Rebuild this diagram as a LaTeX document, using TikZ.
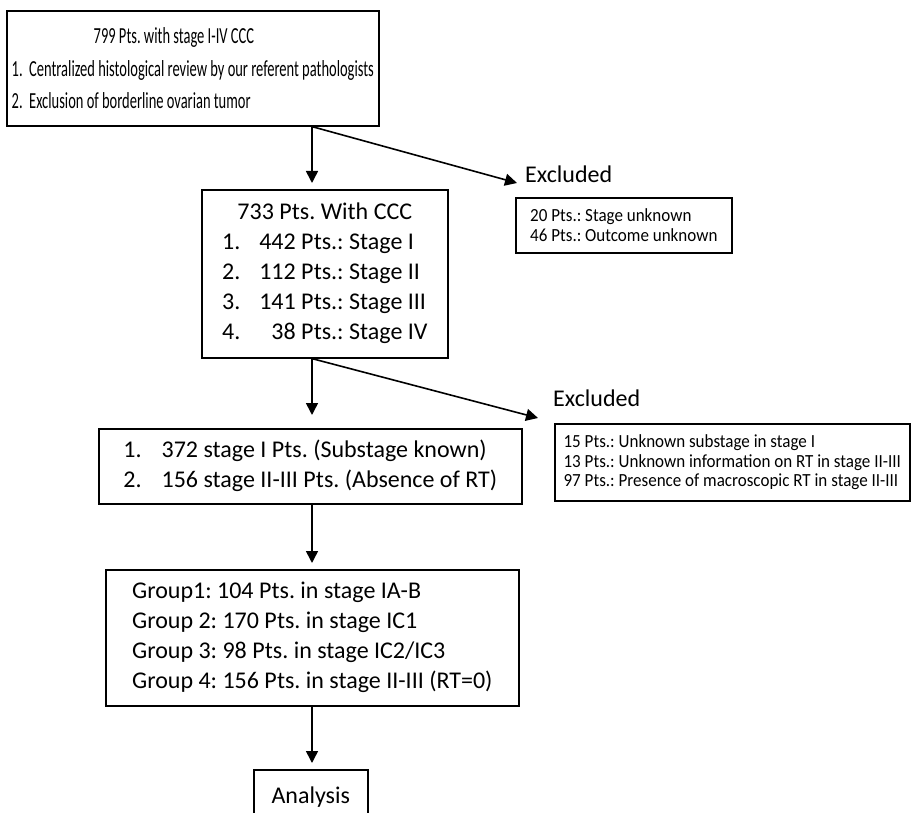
\documentclass[tikz,border=0pt]{standalone}
\usepackage{fontspec}
\setmainfont{Carlito}
\newfontfamily\narrowfont[FakeStretch=0.63]{Carlito}
\newfontfamily\slimfont[FakeStretch=0.92]{Carlito}
\usetikzlibrary{arrows.meta}
\frenchspacing

\begin{document}
\begin{tikzpicture}[x=1pt, y=-1pt,
    box/.style={draw, line width=1.6pt, rectangle, anchor=north west, inner sep=0pt},
    arr/.style={line width=1.6pt, -{Triangle[length=12pt,width=12pt]}},
    bigtext/.style={font=\fontsize{24}{30}\selectfont},
    smalltext/.style={font=\slimfont\fontsize{18.5}{19.5}\selectfont}]
  \clip (0,0) rectangle (911,813);
  \coordinate (axis) at (312,0);

  % boxes of the main column
  \node[box, minimum width=372pt, minimum height=115pt, align=left,
        font=\narrowfont\fontsize{23}{32.5}\selectfont] (review) at (6,10)
        {\hspace*{82pt}799 Pts. with stage I-IV CCC\\
         1.\ \ Centralized histological review by our referent pathologists\\
         2.\ \ Exclusion of borderline ovarian tumor};
  \node[box, minimum width=246pt, minimum height=168pt, bigtext] (ccc) at (201,189)
        {\begin{tabular}{@{}l@{\hspace{19pt}}r@{ }l@{}}
           \multicolumn{3}{c}{733 Pts. With CCC}\\
           1. & 442 & Pts.: Stage I\\
           2. & 112 & Pts.: Stage II\\
           3. & 141 & Pts.: Stage III\\
           4. & 38 & Pts.: Stage IV
         \end{tabular}};
  \node[box, minimum width=423pt, minimum height=75pt, bigtext] (known) at (98,428)
        {\begin{tabular}{@{}l@{\hspace{20pt}}l@{}}
           1. & 372 stage I Pts. (Substage known)\\
           2. & 156 stage II-III Pts. (Absence of RT)
         \end{tabular}};
  \node[box, minimum width=413pt, minimum height=136pt, bigtext, align=left] (groups) at (105,569)
        {Group1: 104 Pts. in stage IA-B\\
         Group 2: 170 Pts. in stage IC1\\
         Group 3: 98 Pts. in stage IC2/IC3\\
         Group 4: 156 Pts. in stage II-III (RT=0)};
  \node[box, minimum width=114pt, minimum height=54pt, bigtext] (analysis) at (253,769) {Analysis};

  % excluded patients
  \node[anchor=base west, inner sep=0pt, bigtext] (excl1) at (525,183) {Excluded};
  \node[box, minimum width=216pt, minimum height=55pt, smalltext, align=left] (lost1) at (515,197)
        {20 Pts.: Stage unknown\\
         46 Pts.: Outcome unknown};
  \node[anchor=base west, inner sep=0pt, bigtext] (excl2) at (553,406) {Excluded};
  \node[box, minimum width=355pt, minimum height=77pt, smalltext, align=left] (lost2) at (554,423)
        {15 Pts.: Unknown substage in stage I\\
         13 Pts.: Unknown information on RT in stage II-III\\
         97 Pts.: Presence of macroscopic RT in stage II-III};

  % arrows
  \draw[arr, shorten >=6pt] (review.south -| axis) -- (ccc.north -| axis);
  \draw[arr] (review.south -| axis) -- ([xshift=-8pt]excl1.base west);
  \draw[arr, shorten >=13pt] (ccc.south -| axis) -- (known.north -| axis);
  \draw[arr] (ccc.south -| axis) -- ([shift={(-15pt,-12pt)}]excl2.base west);
  \draw[arr, shorten >=6pt] (known.south -| axis) -- (groups.north -| axis);
  \draw[arr, shorten >=6pt] (groups.south -| axis) -- (analysis.north -| axis);
\end{tikzpicture}
\end{document}
